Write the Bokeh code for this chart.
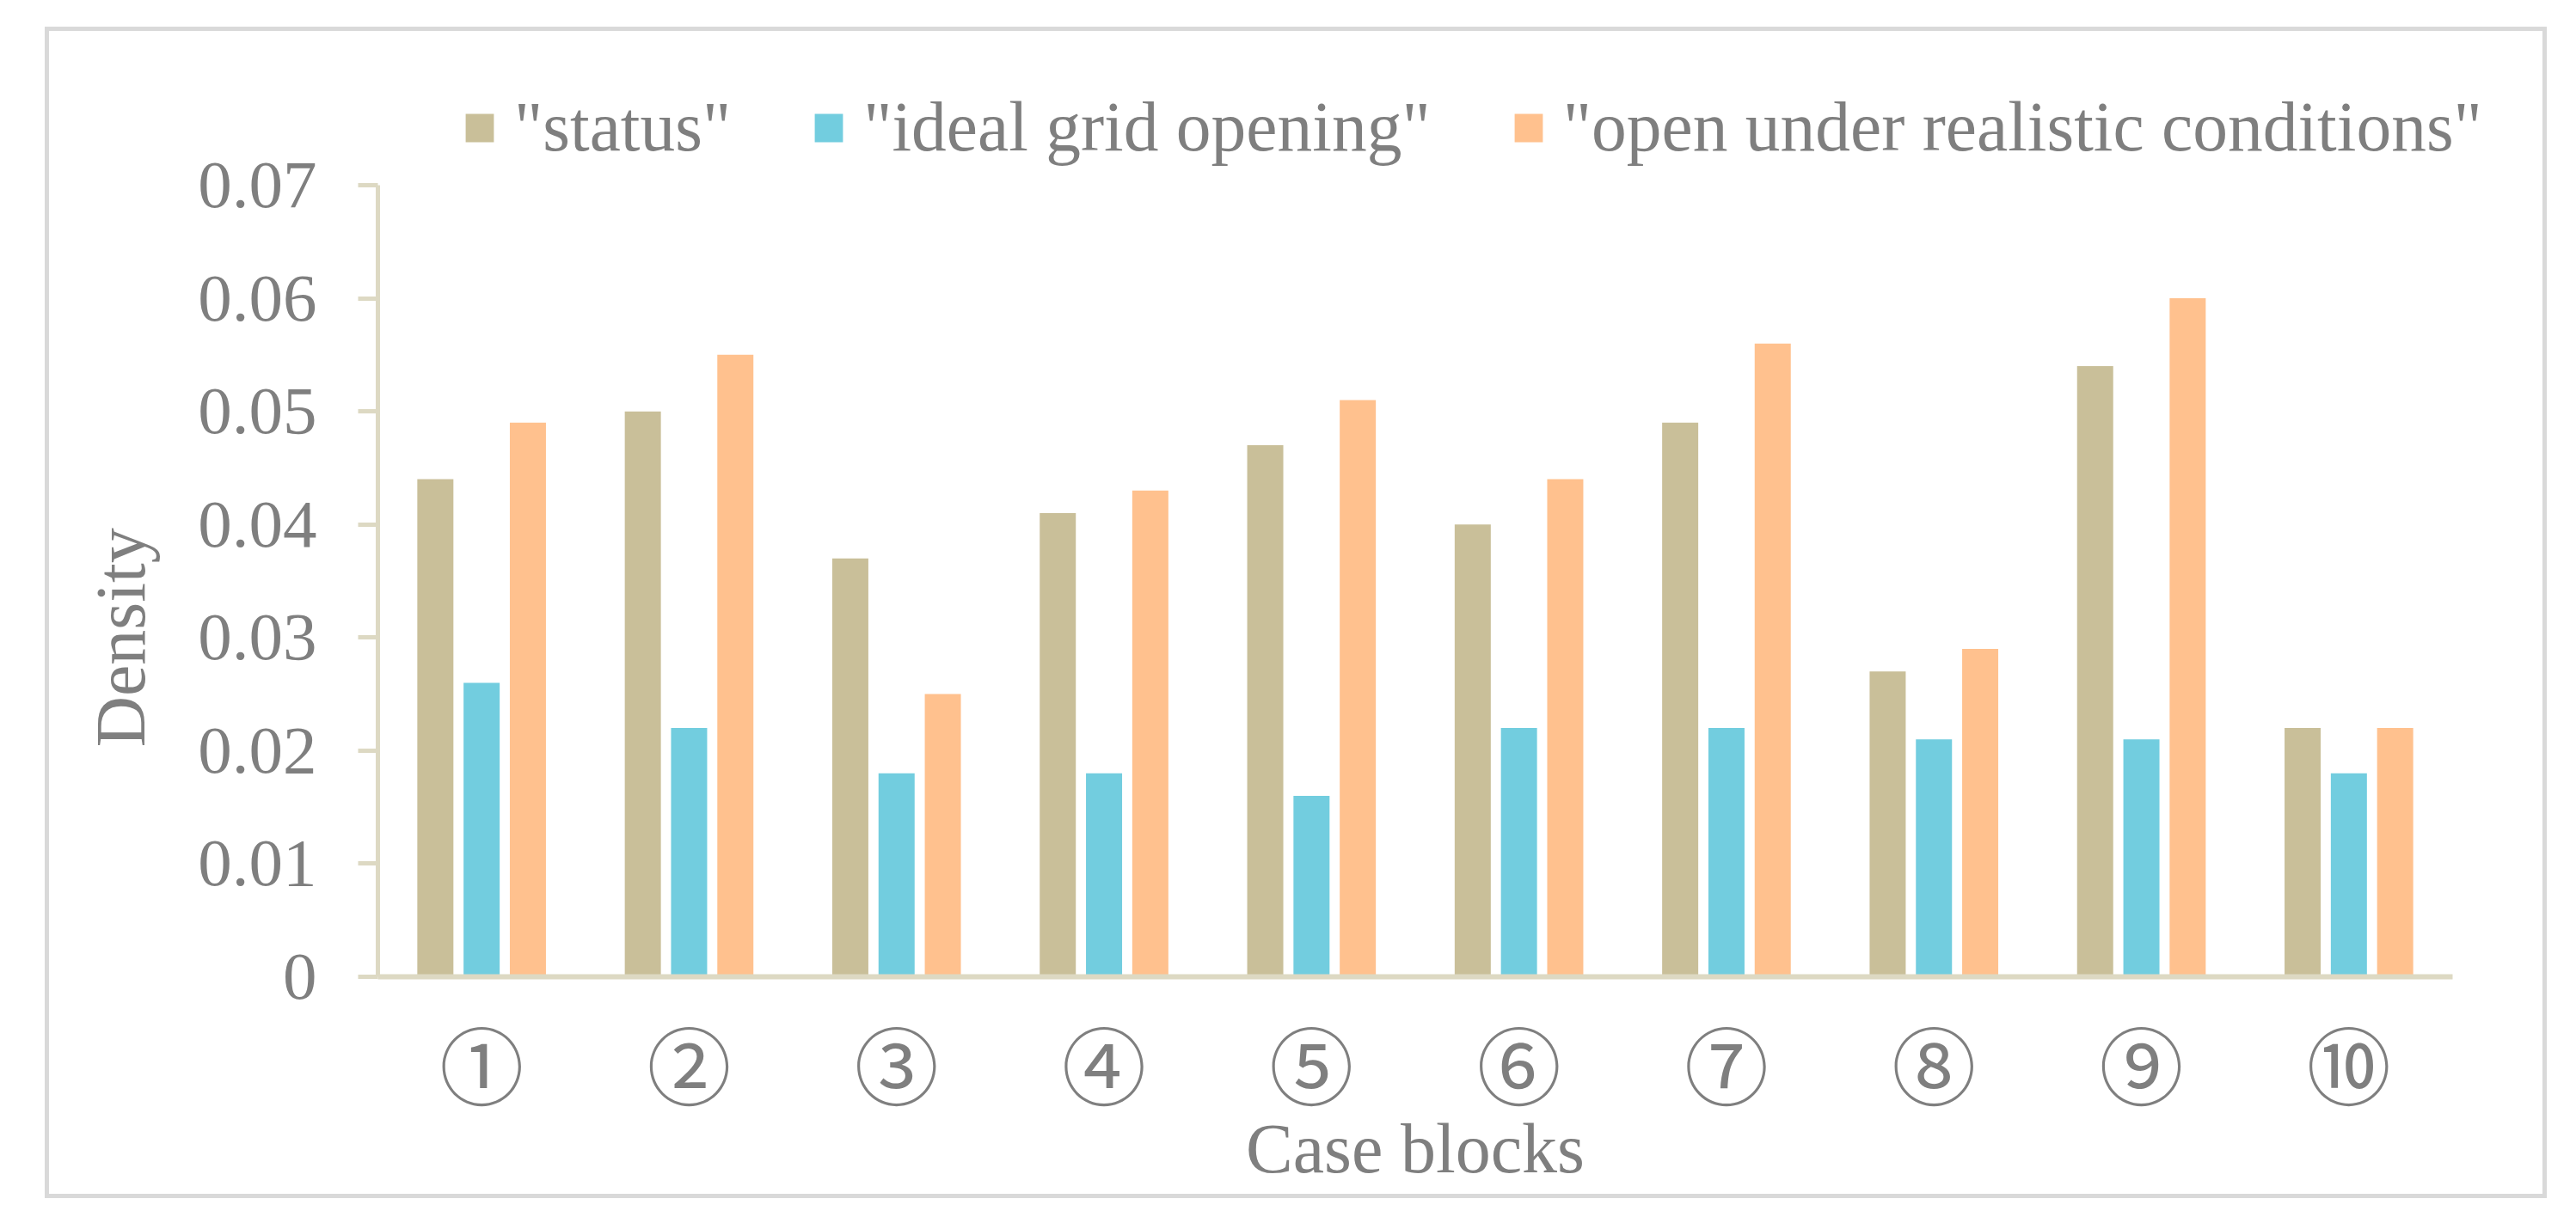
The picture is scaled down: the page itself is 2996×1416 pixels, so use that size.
from bokeh.plotting import figure
from bokeh.models import (ColumnDataSource, Range1d, FixedTicker,
                          Legend, LegendItem, Label)
from bokeh.embed import file_html
from bokeh.resources import INLINE

cases = ["①", "②", "③", "④", "⑤", "⑥", "⑦", "⑧", "⑨", "⑩"]
status = [0.044, 0.050, 0.037, 0.041, 0.047, 0.040, 0.049, 0.027, 0.054, 0.022]
ideal = [0.026, 0.022, 0.018, 0.018, 0.016, 0.022, 0.022, 0.021, 0.021, 0.018]
realistic = [0.049, 0.055, 0.025, 0.043, 0.051, 0.044, 0.056, 0.029, 0.060, 0.022]
series_keys = ["status", "ideal", "realistic"]
series_names = ['"status"', '"ideal grid opening"', '"open under realistic conditions"']
series_colors = ["#C9BF99", "#72CDDF", "#FFC18E"]
y_ticks = [0, 0.01, 0.02, 0.03, 0.04, 0.05, 0.06, 0.07]
y_tick_labels = ["0", "0.01", "0.02", "0.03", "0.04", "0.05", "0.06", "0.07"]
y_max = 0.07
x_title = "Case blocks"
y_title = "Density"

TEXT = "#7F7F7F"
AXIS = "#DDD9C3"
SERIF = "Liberation Serif"

# ---- layout in canvas pixels ----
W, H = 2910, 1363
axis_x0, axis_x1 = 382, 2795      # pixel columns of the category axis ends
axis_y0, axis_y1 = 1100, 179      # pixel rows of y=0 and y=y_max
n = len(cases)
px_x = (axis_x1 - axis_x0) / n    # px per category
px_y = (axis_y0 - axis_y1) / y_max
x_start = -axis_x0 / px_x
x_end = x_start + W / px_x
y_end = axis_y0 / px_y
y_start = -(H - axis_y0) / px_y

x_centers = [i + 0.5 for i in range(n)]
src = ColumnDataSource(dict(x=x_centers, status=status, ideal=ideal, realistic=realistic))

p = figure(
    x_range=Range1d(x_start, x_end), y_range=Range1d(y_start, y_end),
    width=W, height=H, output_backend="svg", toolbar_location=None,
    min_border=0, margin=(31, 0, 0, 52),
)
p.styles = {"border": "5px solid #D9D9D9"}
p.outline_line_color = None
p.background_fill_color = "white"
p.border_fill_color = "white"
p.xgrid.visible = False
p.ygrid.visible = False

offsets = [-0.223, 0.0, 0.223]
renderers = []
for key, off, color in zip(series_keys, offsets, series_colors):
    xs = [c + off for c in x_centers]
    s = ColumnDataSource(dict(x=xs, top=src.data[key]))
    r = p.vbar(x="x", top="top", width=0.174, source=s, fill_color=color, line_color=None)
    renderers.append(r)

legend = Legend(
    items=[LegendItem(label=nm, renderers=[r]) for nm, r in zip(series_names, renderers)],
    orientation="horizontal", location=(480, H - 159), margin=0, padding=0,
    spacing=93, label_standoff=20, glyph_width=41, glyph_height=41,
    border_line_color=None, background_fill_alpha=0,
    label_text_font=SERIF, label_text_font_size="81.5px", label_text_color=TEXT,
)
p.add_layout(legend, "center")

# x axis (category axis at y = 0)
xa = p.xaxis[0]
xa.fixed_location = 0
xa.bounds = (0, n)
xa.ticker = FixedTicker(ticks=x_centers)
xa.major_label_overrides = dict(zip(x_centers, cases))
xa.axis_line_color = AXIS
xa.axis_line_width = 6
xa.major_tick_line_color = None
xa.major_tick_out = 0
xa.major_tick_in = 0
xa.minor_tick_line_color = None
xa.major_label_text_font = "Noto Sans CJK JP"
xa.major_label_text_font_size = "98px"
xa.major_label_text_color = TEXT
xa.major_label_standoff = 27

# y axis (at x = 0)
ya = p.yaxis[0]
ya.fixed_location = 0
ya.bounds = (0, y_max)
ya.ticker = FixedTicker(ticks=y_ticks)
ya.major_label_overrides = dict(zip(y_ticks, y_tick_labels))
ya.axis_line_color = AXIS
ya.axis_line_width = 5
ya.major_tick_line_color = AXIS
ya.major_tick_line_width = 5
ya.major_tick_out = 23
ya.major_tick_in = 0
ya.minor_tick_line_color = None
ya.major_label_text_font = SERIF
ya.major_label_text_font_size = "79px"
ya.major_label_text_color = TEXT
ya.major_label_standoff = 48

# axis titles
p.add_layout(Label(
    text=x_title, x=n / 2, y=-(1336 - 1136) / px_y,
    text_align="center", text_baseline="alphabetic",
    text_font=SERIF, text_font_size="82px", text_color=TEXT,
))
p.add_layout(Label(
    text=y_title, x=(140 - 439) / px_x, y=0.03,
    angle=90, angle_units="deg", text_align="center", text_baseline="alphabetic",
    text_font=SERIF, text_font_size="82px", text_color=TEXT,
))

open("out.html", "w").write(file_html(p, INLINE))
